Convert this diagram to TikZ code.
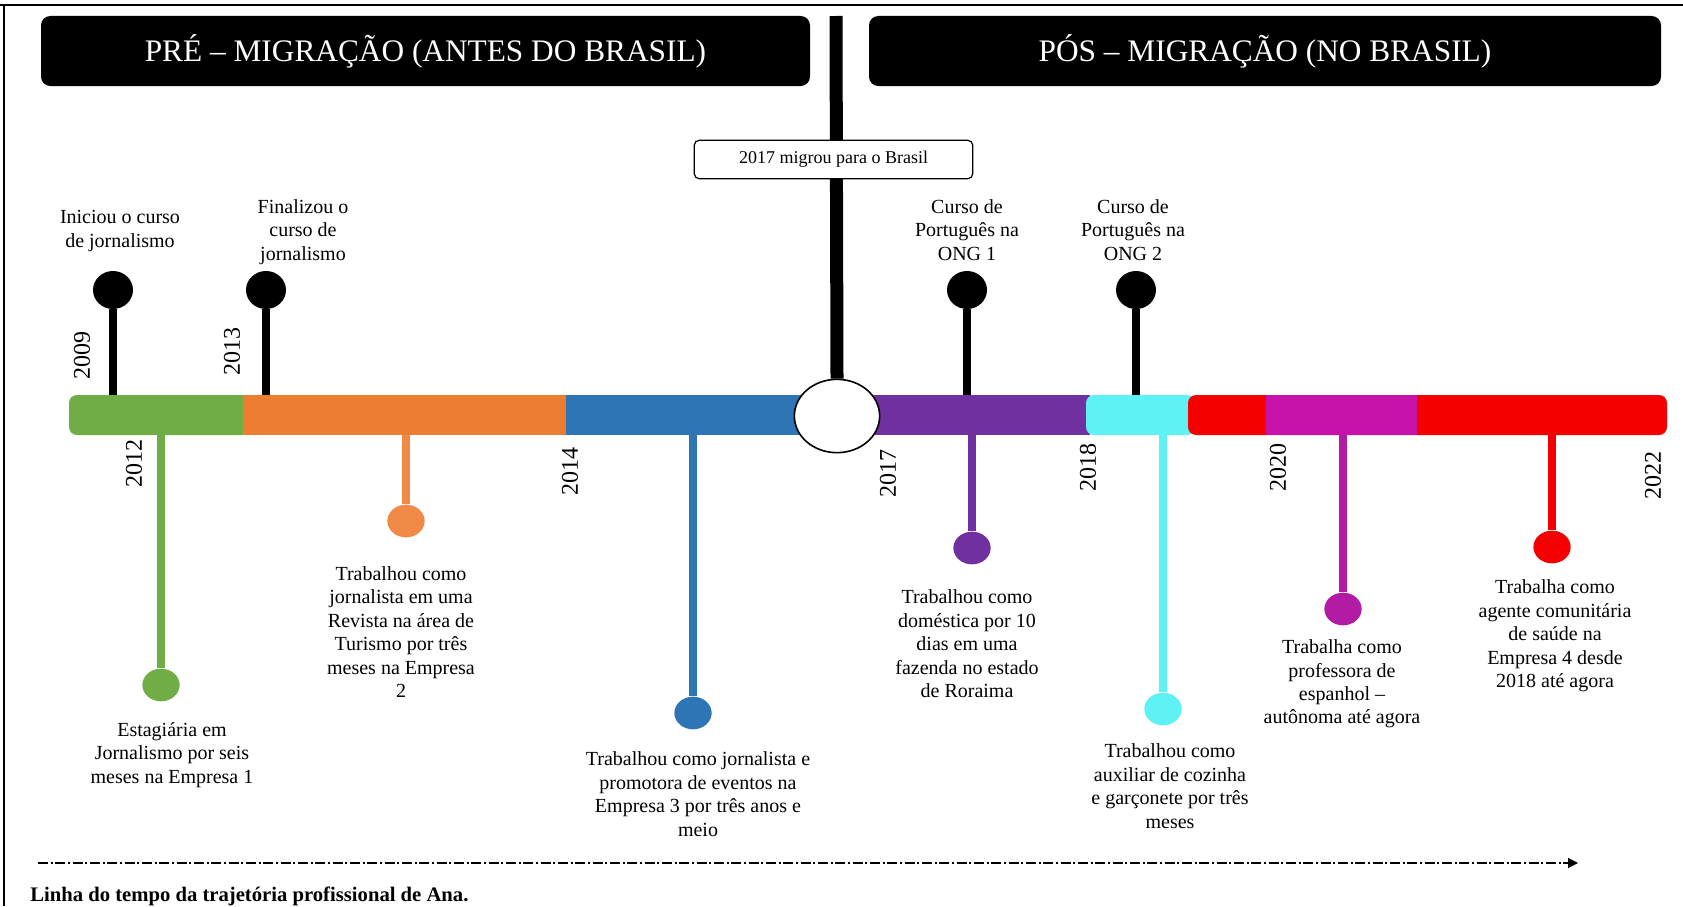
\documentclass[tikz,border=0pt]{standalone}
\usepackage{fontspec}
\setmainfont{Liberation Serif}
\usetikzlibrary{shapes.geometric,arrows.meta}
\definecolor{cgreen}{RGB}{112,173,71}
\definecolor{corange}{RGB}{237,125,49}
\definecolor{corangestick}{RGB}{240,138,70}
\definecolor{cblue}{RGB}{46,117,182}
\definecolor{cpurple}{RGB}{112,48,160}
\definecolor{ccyan}{RGB}{95,242,245}
\definecolor{cred}{RGB}{245,0,0}
\definecolor{cmagenta}{RGB}{198,18,168}
\definecolor{cmagstick}{RGB}{178,28,165}

\begin{document}
\begin{tikzpicture}[x=0.75pt,y=-0.75pt,
  hdr/.style={fill=black, rounded corners=7pt, text=white,
    font=\fontsize{23.5}{28}\selectfont, minimum height=52.5pt, inner sep=0pt},
  seg/.style={minimum height=30pt, inner sep=0pt, outer sep=0pt},
  toppin/.style={ellipse, fill=black, minimum width=30pt, minimum height=28.5pt, inner sep=0pt},
  botpin/.style={ellipse, minimum width=28pt, minimum height=24.5pt, inner sep=0pt},
  stick/.style={line width=6pt},
  lbl/.style={align=center, font=\fontsize{15}{17.6}\selectfont, inner sep=0pt},
  yr/.style={rotate=90, font=\fontsize{18}{20}\selectfont, inner sep=0pt},
  migbox/.style={draw=black, line width=0.9pt, fill=white, rounded corners=4pt,
    minimum width=209pt, minimum height=29pt, inner sep=0pt, font=\fontsize{13.5}{16}\selectfont},
  dasharrow/.style={line width=1.1pt, dash pattern={on 7.5pt off 2pt on 1.5pt off 2pt},
    -{Triangle[length=7.5pt,width=7.5pt]}},
]
\useasboundingbox (0,0) rectangle (1683,906);
\fill[white] (0,0) rectangle (1683,906);

% frame
\draw[line width=2pt] (0,5) -- (1683,5);
\draw[line width=2pt] (4,5) -- (4,906);

% section headers
\node[hdr, minimum width=576.75pt] (pre) at (425.5,51) {PRÉ – MIGRAÇÃO (ANTES DO BRASIL)};
\node[hdr, minimum width=594pt] (pos) at (1265,51) {PÓS – MIGRAÇÃO (NO BRASIL)};

% timeline segments
\node[seg, fill=cgreen, rounded corners=6pt, minimum width=135.75pt] (s1) at (159.5,415) {};
\node[seg, fill=corange, minimum width=245.25pt] (s2) at (406.5,415) {};
\node[seg, fill=cblue, minimum width=183pt] (s3) at (688,415) {};
\node[seg, fill=cpurple, minimum width=168.75pt] (s4) at (977.5,415) {};
\node[seg, fill=ccyan, rounded corners=6pt, minimum width=81.75pt] (s5) at (1140.5,415) {};
\node[seg, fill=cred, rounded corners=6pt, minimum width=359.25pt] (s6) at (1427.5,415) {};
\node[seg, fill=cmagenta, minimum width=113.25pt] (s7) at (1341.5,415) {};

% migration marker
\node[ellipse, draw=black, line width=1.2pt, fill=white, minimum width=64pt, minimum height=55pt, inner sep=0pt] (brasil) at (837,416) {};
\coordinate (mtop) at (836,16);
\draw[line width=9.75pt] (mtop) -- (brasil.north);
\node[migbox] (mig) at (833.5,159.5) {2017 migrou para o Brasil};

% upper pins
\node[toppin] (t1) at (113,290) {};
\node[toppin] (t2) at (266,290) {};
\node[toppin] (t3) at (967,290) {};
\node[toppin] (t4) at (1136,290) {};
\draw[stick] (t1) -- (t1 |- s1.north);
\draw[stick] (t2) -- (t2 |- s2.north);
\draw[stick] (t3) -- (t3 |- s4.north);
\draw[stick] (t4) -- (t4 |- s5.north);

\node[lbl] (l1) at (120,231) {Iniciou o curso\\de jornalismo};
\node[lbl] (l2) at (303,232) {Finalizou o\\curso de\\jornalismo};
\node[lbl] (l3) at (967,230) {Curso de\\Português na\\ONG 1};
\node[lbl] (l4) at (1133,230) {Curso de\\Português na\\ONG 2};

% lower pins
\node[botpin, fill=cgreen] (b1) at (161,685) {};
\node[botpin, fill=corangestick] (b2) at (406,521) {};
\node[botpin, fill=cblue] (b3) at (693,713) {};
\node[botpin, fill=cpurple] (b4) at (972,548) {};
\node[botpin, fill=ccyan] (b5) at (1163,709) {};
\node[botpin, fill=cmagstick] (b6) at (1343,609) {};
\node[botpin, fill=cred] (b7) at (1552,547) {};
\draw[stick, cgreen] (s1.south -| b1) -- (b1);
\draw[stick, corangestick] (s2.south -| b2) -- (b2);
\draw[stick, cblue] (s3.south -| b3) -- (b3);
\draw[stick, cpurple] (s4.south -| b4) -- (b4);
\draw[stick, ccyan] (s5.south -| b5) -- (b5);
\draw[stick, cmagstick] (s7.south -| b6) -- (b6);
\draw[stick, cred] (s6.south -| b7) -- (b7);

\node[lbl] (d1) at (172,755) {Estagiária em\\Jornalismo por seis\\meses na Empresa 1};
\node[lbl] (d2) at (401,632) {Trabalhou como\\jornalista em uma\\Revista na área de\\Turismo por três\\meses na Empresa\\2};
\node[lbl] (d3) at (698,794) {Trabalhou como jornalista e\\promotora de eventos na\\Empresa 3 por três anos e\\meio};
\node[lbl] (d4) at (967,644) {Trabalhou como\\doméstica por 10\\dias em uma\\fazenda no estado\\de Roraima};
\node[lbl] (d5) at (1170,786) {Trabalhou como\\auxiliar de cozinha\\e garçonete por três\\meses};
\node[lbl] (d6) at (1342,684) {Trabalha como\\professora de\\espanhol –\\autônoma até agora};
\node[lbl] (d7) at (1555,636) {Trabalha como\\agente comunitária\\de saúde na\\Empresa 4 desde\\2018 até agora};

% years
\node[yr] (y2009) at (82,355) {2009};
\node[yr] (y2013) at (232,351) {2013};
\node[yr] (y2012) at (134,463) {2012};
\node[yr] (y2014) at (570,471) {2014};
\node[yr] (y2017) at (888,473) {2017};
\node[yr] (y2018) at (1088,467) {2018};
\node[yr] (y2020) at (1278,467) {2020};
\node[yr] (y2022) at (1653,475) {2022};

% time axis and caption
\coordinate (ax0) at (38,863);
\coordinate (ax1) at (1578,863);
\draw[dasharrow] (ax0) -- (ax1);
\node[anchor=west, inner sep=0pt, font=\bfseries\fontsize{15.5}{18}\selectfont] (cap) at (30,896) {Linha do tempo da trajetória profissional de Ana.};
\end{tikzpicture}
\end{document}
